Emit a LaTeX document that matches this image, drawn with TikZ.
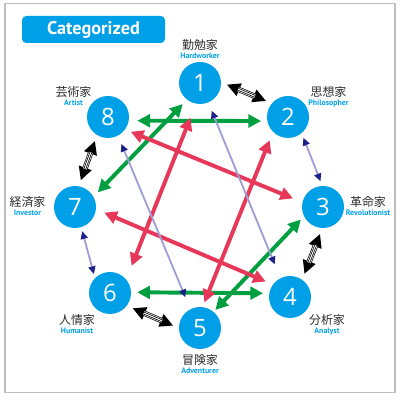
\documentclass[tikz,border=0pt]{standalone}
\usepackage{fontspec}
\setmainfont{PT Sans}
\newfontfamily\cjk{Noto Sans CJK JP}
\newfontfamily\numfont{Open Sans}
\usetikzlibrary{arrows.meta,positioning}
\definecolor{catblue}{HTML}{00A0E9}
\definecolor{catgreen}{HTML}{00A040}
\definecolor{catred}{HTML}{E8385A}
\definecolor{catlav}{HTML}{9E9ED4}
\definecolor{catnavy}{HTML}{1D2088}
\definecolor{framegray}{HTML}{BDBDBD}
\definecolor{textgray}{HTML}{2A2A2A}
\begin{document}
\begin{tikzpicture}[
  num/.style={circle, fill=catblue, minimum size=1.05cm, inner sep=0pt, text=white,
    font=\numfont\fontsize{17}{17}\selectfont},
  jp/.style={inner sep=0pt, text=textgray, font=\cjk\fontsize{8.5}{8.5}\selectfont},
  en/.style={inner sep=0pt, text=catblue, font=\bfseries\fontsize{5.6}{5.6}\selectfont},
  title/.style={fill=catblue, rounded corners=3pt, minimum width=3.575cm, minimum height=0.675cm,
    text=white, font=\bfseries\fontsize{13}{13}\selectfont},
  blk/.style={line width=3.8pt, black, shorten <=0.15cm, shorten >=0.15cm,
    {Triangle[length=9.5pt,width=9pt]}-{Triangle[length=9.5pt,width=9pt]},
    postaction={draw=white, line width=2.8pt, -, shorten <=13pt, shorten >=13pt},
    postaction={draw=black, line width=1.8pt, -, shorten <=13pt, shorten >=13pt},
    postaction={draw=white, line width=0.7pt, -, shorten <=13pt, shorten >=13pt}},
  grn/.style={line width=2.8pt, catgreen, shorten <=0.15cm, shorten >=0.15cm,
    {Triangle[length=9pt,width=9pt]}-{Triangle[length=9pt,width=9pt]}},
  rd/.style={grn, catred},
  lav/.style={line width=1.3pt, catlav, shorten <=0.12cm, shorten >=0.12cm,
    {Triangle[length=5.5pt,width=5pt,color=catnavy]}-{Triangle[length=5.5pt,width=5pt,color=catnavy]}}
]
\useasboundingbox (0,0) rectangle (10,10);
\draw[framegray, line width=1pt] (0.125,0.1875) rectangle (9.875,9.9125);
\node[title] (title) at (2.3375,9.2625) {Categorized};

\foreach \i/\x/\y in {1/5/7.925, 2/7.2/7.075, 3/8.075/4.825, 4/7.25/2.575,
                      5/5/1.8, 6/2.75/2.675, 7/1.875/4.825, 8/2.7/7.075} {
  \node[num] (n\i) at (\x,\y) {\i};
}

\foreach \i/\x/\y/\jp/\en in {1/5/8.875/勤勉家/Hardworker, 2/8.2125/7.7/思想家/Philosopher,
    3/9.2/4.95/革命家/Revolutionist, 4/8.175/2.0/分析家/Analyst, 5/5/1.0/冒険家/Adventurer,
    6/1.925/2.0/人情家/Humanist, 7/0.6875/4.95/経済家/Investor, 8/1.8375/7.7/芸術家/Artist} {
  \node[jp] (j\i) at (\x,\y) {\jp};
  \node[en, below=1.5pt of j\i] (e\i) {\en};
}

\draw[grn, shorten <=0.21cm] (n8.-10) -- (n2.191);
\draw[grn] (n6.2) -- (n4.170);
\draw[grn] (n1.232) -- (n7.29);
\draw[grn, shorten <=0.11cm, shorten >=0.06cm] (n3.206) -- (n5.50);

\draw[rd, shorten >=0.25cm] (n8.-36) -- (n3.167);
\draw[rd, shorten <=0.37cm, shorten >=0.36cm] (n1.259) -- (n6.40);
\draw[rd, shorten <=0.22cm, shorten >=0.12cm] (n2.225) -- (n5.83);
\draw[rd, shorten <=0.22cm, shorten >=0.19cm] (n7.-6) -- (n4.144);

\draw[lav] (n2.-50) -- (n3.92);
\draw[lav, shorten <=0.1cm, shorten >=0.1cm] (n6.135) -- (n7.-73);
\draw[lav, shorten <=0.22cm, shorten >=0.37cm] (n1.-67) -- (n4.117);
\draw[lav, shorten <=0.22cm, shorten >=0.32cm] (n8.-62) -- (n5.117);

\draw[blk] (n1.2) -- (n2.140);
\draw[blk] (n3.-92) -- (n4.55);
\draw[blk] (n5.180) -- (n6.-37);
\draw[blk] (n7.80) -- (n8.239);
\end{tikzpicture}
\end{document}
